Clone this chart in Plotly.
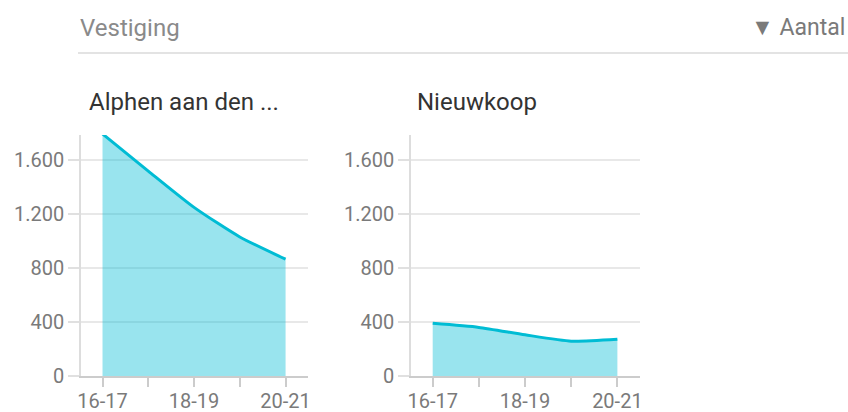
import plotly.graph_objects as go

categories = ["16-17", "17-18", "18-19", "19-20", "20-21"]
tick_labels = ["16-17", "", "18-19", "", "20-21"]
alphen_values = [1793, 1518, 1249, 1030, 865]
nieuwkoop_values = [390, 360, 305, 258, 272]
panel_titles = ["Alphen aan den ...", "Nieuwkoop"]
y_ticks = [0, 400, 800, 1200, 1600]
y_tick_labels = ["0", "400", "800", "1.200", "1.600"]

W, H = 848, 412
LINE = "#00bcd4"
FILL = "rgba(0,188,212,0.4)"
FONT = "Roboto"

def px_x(p):
    return p / W

def px_y(p):
    return 1 - p / H

fig = go.Figure()
series = [alphen_values, nieuwkoop_values]
x_domains = [[px_x(81), px_x(308)], [px_x(411), px_x(640)]]
y_domain = [px_y(376), px_y(135)]

for i, vals in enumerate(series):
    xa = "x" if i == 0 else "x2"
    ya = "y" if i == 0 else "y2"
    fig.add_trace(go.Scatter(
        x=categories, y=vals, mode="lines",
        line=dict(color=LINE, width=3, shape="spline", smoothing=0.6),
        fill="tozeroy", fillcolor=FILL,
        xaxis=xa, yaxis=ya, showlegend=False, hoverinfo="skip",
    ))

axis_common_x = dict(
    type="category", categoryorder="array", categoryarray=categories,
    range=[-0.47, 4.49], tickmode="array", tickvals=categories, ticktext=tick_labels,
    showline=True, linecolor="#cccccc", linewidth=1.5,
    ticks="outside", ticklen=9, tickcolor="#cccccc", tickwidth=1.5,
    showgrid=False, zeroline=False, automargin=False,
    tickfont=dict(family=FONT, size=20, color="#7a7a7a"),
    fixedrange=True,
)
axis_common_y = dict(
    range=[0, 1785], tickmode="array", tickvals=y_ticks, ticktext=y_tick_labels,
    showline=True, linecolor="#dddddd", linewidth=1.5,
    showgrid=True, gridcolor="#e8e8e8", gridwidth=1.5,
    zeroline=False, automargin=False,
    ticks="outside", ticklen=11, tickcolor="#e0e0e0", tickwidth=1.5,
    tickfont=dict(family=FONT, size=20, color="#7a7a7a"),
    domain=y_domain, fixedrange=True,
)

fig.update_layout(
    width=W, height=H,
    margin=dict(l=0, r=0, t=0, b=0),
    paper_bgcolor="white", plot_bgcolor="white",
    xaxis=dict(domain=x_domains[0], anchor="y", **axis_common_x),
    xaxis2=dict(domain=x_domains[1], anchor="y2", **axis_common_x),
    yaxis=dict(anchor="x", **axis_common_y),
    yaxis2=dict(anchor="x2", **axis_common_y),
)

try:
    fig.update_xaxes(ticklabelstandoff=-3)
except Exception:
    fig.update_xaxes(ticklen=7)

# header
fig.add_shape(type="line", xref="paper", yref="paper",
              x0=px_x(78), x1=1, y0=px_y(53), y1=px_y(53),
              line=dict(color="#e3e3e3", width=2))
fig.add_annotation(text="Vestiging", xref="paper", yref="paper",
                   x=px_x(78), y=px_y(28), xanchor="left", yanchor="middle",
                   showarrow=False, font=dict(family=FONT, size=24, color="#8a8a8a"))
fig.add_annotation(text="▼ Aantal", xref="paper", yref="paper",
                   x=px_x(847), y=px_y(28), xanchor="right", yanchor="middle",
                   showarrow=False, font=dict(family=FONT, size=23, color="#7a7a7a"))

# panel titles
title_x = [87, 415]
for t, xp in zip(panel_titles, title_x):
    fig.add_annotation(text=t, xref="paper", yref="paper",
                       x=px_x(xp), y=px_y(102), xanchor="left", yanchor="middle",
                       showarrow=False, font=dict(family=FONT, size=24, color="#333333"))

fig.write_html(
    "out.html",
    config={"displayModeBar": False},
    post_script="document.body.style.margin='0';document.body.style.overflow='hidden';",
)
